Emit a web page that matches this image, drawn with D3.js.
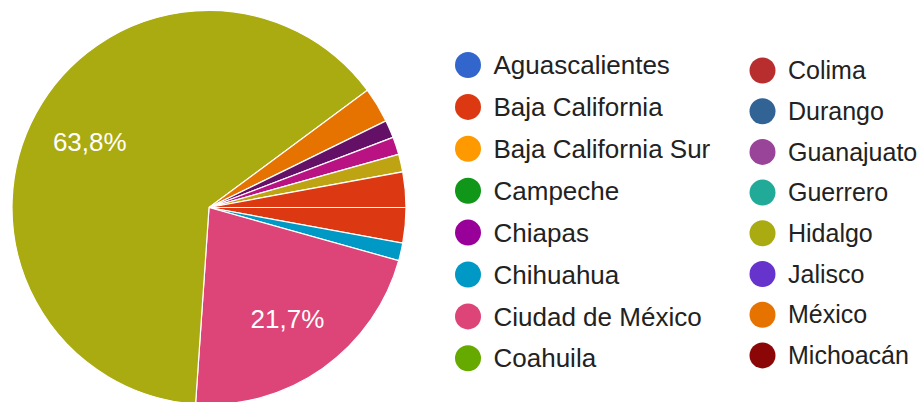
<!DOCTYPE html>
<html>
<head>
<meta charset="utf-8">
<script src="https://cdn.jsdelivr.net/npm/d3@7"></script>
<style>
    body { margin: 0; background: #fff; }
    svg { display: block; font-family: "Liberation Sans", Arial, sans-serif; }
</style>
</head>
<body>
<div id="chart"></div>
<script>
const container_id = 'chart';
const width = 922, height = 402;

// answer options, in the form's order
const states = [
    'Aguascalientes', 'Baja California', 'Baja California Sur', 'Campeche',
    'Chiapas', 'Chihuahua', 'Ciudad de México', 'Coahuila',
    'Colima', 'Durango', 'Guanajuato', 'Guerrero',
    'Hidalgo', 'Jalisco', 'México', 'Michoacán',
    'Morelos', 'Nayarit', 'Nuevo León', 'Oaxaca',
    'Puebla', 'Querétaro', 'Quintana Roo', 'San Luis Potosí',
    'Sinaloa', 'Sonora', 'Tabasco', 'Tamaulipas',
    'Tlaxcala', 'Veracruz', 'Yucatán', 'Zacatecas', 'Otro'
];

// number of responses per option (69 in total)
const responses = [
    0, 2, 0, 0,
    0, 1, 15, 0,
    0, 0, 0, 0,
    44, 0, 2, 0,
    1, 0, 0, 0,
    0, 0, 1, 0,
    0, 0, 0, 0,
    1, 0, 0, 0, 2
];

const palette = [
    '#3366cc', '#dc3912', '#ff9900', '#109618', '#990099', '#0099c6', '#dd4477', '#66aa00',
    '#b82e2e', '#316395', '#994499', '#22aa99', '#aaaa11', '#6633cc', '#e67300', '#8b0707',
    '#651067', '#329262', '#5574a6', '#3b3eac', '#b77322', '#16d620', '#b91383', '#f4359e',
    '#9c5935', '#a9c413', '#2a778d', '#668d1c', '#bea413', '#0c5922', '#743411'
];

// legend only shows the first page of options
const legendCount = 16;

const pie_center = { x: 209, y: 207.5 };
const radius = 197;

const esLocale = d3.formatLocale({ decimal: ',', thousands: '.', grouping: [3], currency: ['$', ''] });
const formatPct = esLocale.format('.1%');

const color = i => palette[i % palette.length];

function drawPie(svg, data) {
    const total = d3.sum(data, d => d.value);

    const pie = d3.pie()
        .sort(null)
        .value(d => d.value)
        .startAngle(Math.PI / 2)
        .endAngle(Math.PI / 2 + 2 * Math.PI);

    const arc = d3.arc().innerRadius(0).outerRadius(radius);
    const labelArc = d3.arc().innerRadius(radius * 0.69).outerRadius(radius * 0.69);

    const arcs = pie(data).filter(d => d.data.value > 0);

    const g = svg.append('g')
        .attr('transform', 'translate(' + pie_center.x + ',' + pie_center.y + ')');

    g.selectAll('.slice')
        .data(arcs)
        .enter()
        .append('path')
            .attr('class', 'slice')
            .attr('d', arc)
            .attr('fill', d => color(d.data.index))
            .attr('stroke', '#fff')
            .attr('stroke-width', 1.2);

    g.selectAll('.pct')
        .data(arcs.filter(d => d.data.value / total > 0.1))
        .enter()
        .append('text')
            .attr('class', 'pct')
            .attr('transform', d => 'translate(' + labelArc.centroid(d) + ')')
            .attr('text-anchor', 'middle')
            .attr('dy', '0.35em')
            .attr('fill', '#fff')
            .style('font-size', '26px')
            .text(d => formatPct(d.data.value / total));
}

function drawLegend(svg, data) {
    const cols = [
        { x: 468, y: 65, step: 41.9, font: 26 },
        { x: 762.5, y: 70.5, step: 40.7, font: 25 }
    ];
    const perCol = 8;
    const col = i => cols[Math.floor(i / perCol)];

    const item = svg.append('g')
        .attr('class', 'legend')
        .selectAll('g')
        .data(data.slice(0, legendCount))
        .enter()
        .append('g')
            .attr('transform', (d, i) => 'translate(' + col(i).x + ',' + (col(i).y + (i % perCol) * col(i).step) + ')');

    item.append('circle')
        .attr('r', 13)
        .attr('fill', d => color(d.index));

    item.append('text')
        .attr('x', 25.5)
        .attr('dy', '0.35em')
        .attr('fill', '#222')
        .style('font-size', (d, i) => col(i).font + 'px')
        .text(d => d.name);
}

function main() {
    const data = states.map((name, i) => ({ name: name, value: responses[i], index: i }));

    const svg = d3.select('#' + container_id)
        .append('svg')
            .attr('width', width)
            .attr('height', height);

    svg.append('rect').attr('width', width).attr('height', height).attr('fill', '#fff');

    drawPie(svg, data);
    drawLegend(svg, data);
}

main();
</script>
</body>
</html>
